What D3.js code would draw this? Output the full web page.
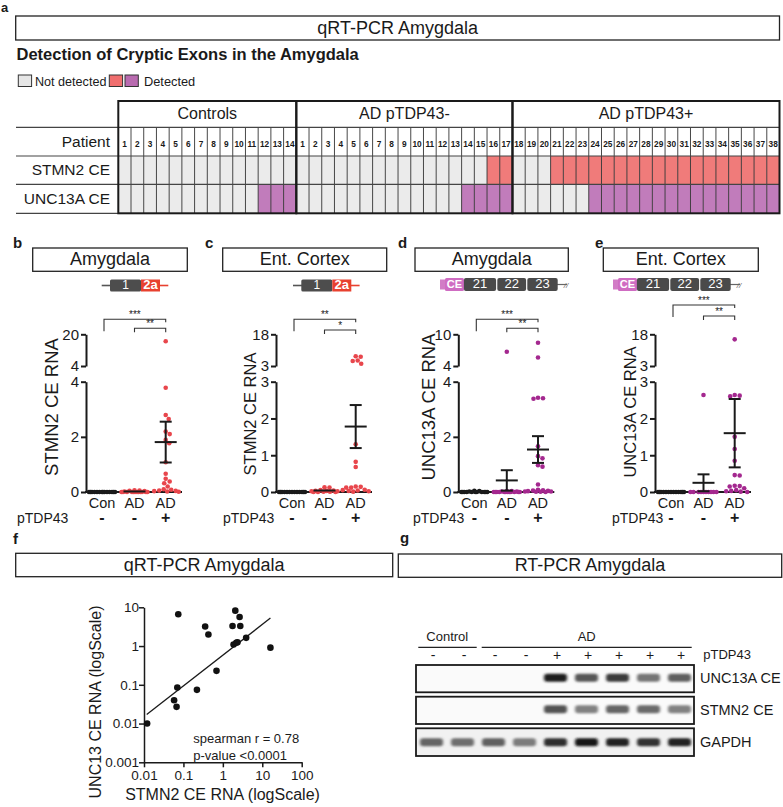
<!DOCTYPE html>
<html><head><meta charset="utf-8">
<script src="https://cdn.jsdelivr.net/npm/d3@7"></script>
<style>body{margin:0;background:#fff} text{font-family:"Liberation Sans",Arial,sans-serif}</style>
</head><body><svg id="fig" width="783" height="807"></svg>
<script>
// ---------------- DATA ----------------
const tableGroups = ["Controls", "AD pTDP43-", "AD pTDP43+"];
const patientIds = [
  [1,2,3,4,5,6,7,8,9,10,11,12,13,14],
  [1,2,3,4,5,6,7,8,9,10,11,12,13,14,15,16,17],
  [18,19,20,21,22,23,24,25,26,27,28,29,30,31,32,33,34,35,36,37,38]
];
const rowLabels = ["Patient", "STMN2 CE", "UNC13A CE"];
const stmn2Status = [
  [0,0,0,0,0,0,0,0,0,0,0,0,0,0],
  [0,0,0,0,0,0,0,0,0,0,0,0,0,0,0,1,1],
  [0,0,0,1,1,1,1,1,1,1,1,1,1,1,1,1,1,1,1,1,1]
];
const unc13aStatus = [
  [0,0,0,0,0,0,0,0,0,0,0,1,1,1],
  [0,0,0,0,0,0,0,0,0,0,0,0,0,1,1,1,1],
  [0,0,0,0,0,0,1,1,1,1,1,1,1,1,1,1,1,1,1,1,1]
];
const categories = ["Con", "AD", "AD"];
const pTDP43Signs = ["-", "-", "+"];

// b: STMN2, Amygdala
const stmn2AmyCon = [0,0,0,0,0,0,0,0,0,0,0,0,0,0];
const stmn2AmyAdNeg = [0,0,0,0,0,0,0,0,0,0,0,0,0.02,0.03,0.04,0.05,0.06];
const stmn2AmyAdPos = [16.5,3.78,2.79,2.65,2.19,2.1,1.89,1.77,1.08,0.66,0.48,0.38,0.32,0.2,0.1,0.08,0.05,0.04,0.03,0.02,0.01];
const stmn2AmyMean = [0, 0.02, 1.81];
const stmn2AmySem = [0, 0.01, 0.74];
// c: STMN2, Ent. Cortex
const stmn2EcCon = [0,0,0,0,0,0,0,0,0,0,0,0,0];
const stmn2EcAdNeg = [0.13,0.12,0.05,0.04,0.03,0.03,0.02,0.02,0.01,0.01,0,0,0];
const stmn2EcAdPos = [7.6,7.4,5.6,5.4,4.1,1.3,0.82,0.68,0.15,0.14,0.12,0.12,0.06,0.05,0.04,0.03,0.02,0.01];
const stmn2EcMean = [0, 0.04, 1.78];
const stmn2EcSem = [0, 0.01, 0.585];
// d: UNC13A, Amygdala
const unc13aAmyCon = [0,0,0,0,0,0,0,0,0,0,0,0.02,0.03,0.04];
const unc13aAmyAdNeg = [6.7,0,0,0,0,0,0,0,0,0,0,0,0,0.02,0.02,0.03,0.03];
const unc13aAmyAdPos = [8.4,5.6,3.42,3.4,3.38,1.66,1.3,1.22,0.97,0.92,0.27,0.08,0.06,0.05,0.04,0.03,0.02,0.02,0.01,0.01,0];
const unc13aAmyMean = [0.01, 0.42, 1.54];
const unc13aAmySem = [0.005, 0.37, 0.485];
// e: UNC13A, Ent. Cortex
const unc13aEcCon = [0,0,0,0,0,0,0,0,0,0,0,0,0];
const unc13aEcAdNeg = [2.64,0,0,0,0,0,0,0,0,0,0];
const unc13aEcAdPos = [15.6,2.64,2.62,2.6,1.5,1.17,0.85,0.46,0.45,0.17,0.16,0.15,0.1,0.05,0.03,0.02,0.01,0];
const unc13aEcMean = [0, 0.25, 1.6];
const unc13aEcSem = [0, 0.23, 0.93];

// f: correlation
const scatterStmn2 = [0.012,0.058,0.067,0.07,0.074,0.22,0.356,0.43,0.69,1.76,1.87,2.07,2.19,2.35,2.66,2.77,3.9,16.1];
const scatterUnc13 = [0.01,0.04,0.027,0.085,6.6,0.074,3.2,1.98,0.229,3.3,1.1,8.2,1.22,1.25,5.6,3.3,1.63,0.91];
const fitX = [0.0117, 16.1];
const fitY = [0.0171, 5.26];
const logTicksX = [0.01, 0.1, 1, 10, 100];
const logTicksY = [0.001, 0.01, 0.1, 1, 10];

// g: gel
const gelSigns = ["-","-","-","-","+","+","+","+","+"];
const gelRows = ["UNC13A CE", "STMN2 CE", "GAPDH"];
const unc13aBand = [0,0,0,0,0.92,0.68,0.8,0.55,0.65];
const stmn2Band = [0,0,0,0,0.7,0.5,0.62,0.6,0.5];
const gapdhBand = [0.62,0.58,0.64,0.52,0.86,0.95,0.9,0.84,0.9];

// ---------------- DRAW ----------------
const svg = d3.select("#fig");
const FONT = "'Liberation Sans', Arial, sans-serif";
const cGray = "#ebebeb", cRed = "#f07b7a", cPurple = "#c17cbb";
const dotRed = "#e8464c", dotPurple = "#a4288f";

function txt(x, y, s, size, opts = {}) {
  return svg.append("text").attr("x", x).attr("y", y).text(s)
    .attr("font-size", size).attr("font-family", FONT)
    .attr("text-anchor", opts.anchor || "start")
    .attr("dominant-baseline", opts.base || "auto")
    .attr("font-weight", opts.bold ? "bold" : "normal")
    .attr("fill", opts.fill || "#1a1a1a");
}
function boxTitle(x0, x1, y0, y1, s, size) {
  svg.append("rect").attr("x", x0).attr("y", y0).attr("width", x1 - x0).attr("height", y1 - y0)
    .attr("fill", "#fff").attr("stroke", "#222").attr("stroke-width", 1.3);
  txt((x0 + x1) / 2, (y0 + y1) / 2 + 1, s, size, {anchor: "middle", base: "middle"});
}

// ----- Panel a -----
txt(1, 12, "a", 13, {bold: true});
boxTitle(15.7, 779.5, 16, 40, "qRT-PCR Amygdala", 18);
txt(16.5, 60, "Detection of Cryptic Exons in the Amygdala", 16.5, {bold: true});
// legend
const legendItems = [
  {x: 18.3, fill: "#e6e6e6"}, {x: 109.3, fill: "#f06e6e"}, {x: 125, fill: "#b96bb0"}
];
legendItems.forEach(l => svg.append("rect").attr("x", l.x).attr("y", 75).attr("width", 13.3).attr("height", 11.5)
  .attr("fill", l.fill).attr("stroke", "#333").attr("stroke-width", 1));
txt(35, 85.5, "Not detected", 12.6);
txt(144, 85.5, "Detected", 12.8);

// table
const allCells = [];
patientIds.forEach((g, gi) => g.forEach((p, pi) => allCells.push({gi, pi, p, s: stmn2Status[gi][pi], u: unc13aStatus[gi][pi]})));
const tx = d3.scaleLinear().domain([0, allCells.length]).range([118.3, 779.5]);
const cw = tx(1) - tx(0);
const rowY = [101, 127.3, 156, 184.3, 213.3];
const statusColor = (v, c) => v ? c : cGray;
const tbl = svg.append("g");
tbl.selectAll(".cs").data(allCells).join("rect")
  .attr("x", (d, i) => tx(i)).attr("y", rowY[2]).attr("width", cw).attr("height", rowY[3] - rowY[2])
  .attr("fill", d => statusColor(d.s, cRed));
tbl.selectAll(".cu").data(allCells).join("rect")
  .attr("x", (d, i) => tx(i)).attr("y", rowY[3]).attr("width", cw).attr("height", rowY[4] - rowY[3])
  .attr("fill", d => statusColor(d.u, cPurple));
// thin verticals
tbl.selectAll(".vl").data(d3.range(1, allCells.length)).join("line")
  .attr("x1", i => tx(i)).attr("x2", i => tx(i)).attr("y1", rowY[1]).attr("y2", rowY[4])
  .attr("stroke", "#333").attr("stroke-width", 0.9);
// horizontals
[1, 2, 3].forEach(r => tbl.append("line").attr("x1", 16).attr("x2", 779.5).attr("y1", rowY[r]).attr("y2", rowY[r])
  .attr("stroke", "#444").attr("stroke-width", 1.2));
tbl.append("line").attr("x1", 16).attr("x2", 118.3).attr("y1", rowY[4]).attr("y2", rowY[4]).attr("stroke", "#444").attr("stroke-width", 1.2);
// group borders
let start = 0;
patientIds.forEach((g, gi) => {
  const x0 = tx(start), x1 = tx(start + g.length);
  tbl.append("rect").attr("x", x0).attr("y", rowY[0]).attr("width", x1 - x0).attr("height", rowY[4] - rowY[0])
    .attr("fill", "none").attr("stroke", "#1a1a1a").attr("stroke-width", 2);
  txt((x0 + x1) / 2, (rowY[0] + rowY[1]) / 2 + 1, tableGroups[gi], 16, {anchor: "middle", base: "middle"});
  start += g.length;
});
// patient numbers
tbl.selectAll(".pn").data(allCells).join("text")
  .attr("x", (d, i) => tx(i) + cw / 2).attr("y", 144.5).text(d => d.p)
  .attr("font-size", 8.3).attr("font-weight", "bold").attr("font-family", FONT)
  .attr("text-anchor", "middle").attr("dominant-baseline", "middle").attr("fill", "#1a1a1a");
rowLabels.forEach((l, i) => txt(110, (rowY[i + 1] + rowY[i + 2]) / 2 + 1, l, 15.5, {anchor: "end", base: "middle"}));

// ----- Panels b-e -----
function swarm(vals, yfn, cx, r, maxHalf) {
  const pts = vals.map(v => ({v, y: yfn(v)})).sort((a, b) => a.y - b.y);
  const placed = [];
  const offs = [0];
  for (let o = 0.5; o <= maxHalf; o += 0.5) { offs.push(o, -o); }
  pts.forEach(p => {
    let chosen = null, bestD = -1, bestO = 0;
    for (const o of offs) {
      let md = Infinity;
      placed.forEach(q => { const d = Math.hypot(q.x - (cx + o), q.y - p.y); if (d < md) md = d; });
      if (md >= 2 * r) { chosen = o; break; }
      if (md > bestD + 0.01) { bestD = md; bestO = o; }
    }
    p.x = cx + (chosen !== null ? chosen : bestO);
    placed.push(p);
  });
  return placed;
}

const panels = [
  {label: "b", lx: 13, title: "Amygdala", box: [32.7, 187.3], axisX: 86, top: 20, brk: 4, low: [0, 2, 4],
   series: [stmn2AmyCon, stmn2AmyAdNeg, stmn2AmyAdPos], mean: stmn2AmyMean, sem: stmn2AmySem, col: dotRed,
   ylab: "STMN2 CE RNA", ylabSize: 18.5, ylabX: 53, ylabY: 407, gene: "stmn2", geneX: 101.7,
   br: [319.3, 328.3], stars: ["***", "**"], ptx: 17},
  {label: "c", lx: 205, title: "Ent. Cortex", box: [222.7, 386.7], axisX: 276, top: 18, brk: 3, low: [0, 1, 2, 3],
   series: [stmn2EcCon, stmn2EcAdNeg, stmn2EcAdPos], mean: stmn2EcMean, sem: stmn2EcSem, col: dotRed,
   ylab: "STMN2 CE RNA", ylabSize: 16.5, ylabX: 252, ylabY: 414, gene: "stmn2", geneX: 293,
   br: [319.3, 330], stars: ["**", "*"], ptx: 223},
  {label: "d", lx: 398, title: "Amygdala", box: [415, 568.3], axisX: 458.3, top: 10, brk: 4, low: [0, 2, 4],
   series: [unc13aAmyCon, unc13aAmyAdNeg, unc13aAmyAdPos], mean: unc13aAmyMean, sem: unc13aAmySem, col: dotPurple,
   ylab: "UNC13A CE RNA", ylabSize: 18.5, ylabX: 430, ylabY: 407, gene: "unc13a", geneX: 440,
   br: [319.3, 328.3], stars: ["***", "**"], ptx: 413},
  {label: "e", lx: 595, title: "Ent. Cortex", box: [603.3, 758.3], axisX: 655, top: 18, brk: 3, low: [0, 1, 2, 3],
   series: [unc13aEcCon, unc13aEcAdNeg, unc13aEcAdPos], mean: unc13aEcMean, sem: unc13aEcSem, col: dotPurple,
   ylab: "UNC13A CE RNA", ylabSize: 16.5, ylabX: 632, ylabY: 412, gene: "unc13a", geneX: 613,
   br: [305, 316], stars: ["***", "**"], ptx: 612}
];

function geneStmn2(x0, yc) {
  const g = svg.append("g");
  g.append("line").attr("x1", x0).attr("x2", x0 + 20).attr("y1", yc).attr("y2", yc).attr("stroke", "#555").attr("stroke-width", 1.6);
  g.append("line").attr("x1", x0 + 45).attr("x2", x0 + 66.6).attr("y1", yc).attr("y2", yc).attr("stroke", "#e8412f").attr("stroke-width", 1.6);
  g.append("rect").attr("x", x0 + 8.3).attr("y", yc - 6).attr("width", 31).attr("height", 12).attr("rx", 1.5).attr("fill", "#4d4d4d");
  g.append("rect").attr("x", x0 + 39.3).attr("y", yc - 6).attr("width", 19).attr("height", 12).attr("fill", "#e8412f");
  g.append("text").attr("x", x0 + 23.8).attr("y", yc + 0.5).text("1").attr("fill", "#fff").attr("font-size", 12)
    .attr("font-family", FONT).attr("text-anchor", "middle").attr("dominant-baseline", "middle");
  g.append("text").attr("x", x0 + 48.8).attr("y", yc + 0.5).text("2a").attr("fill", "#fff").attr("font-size", 13).attr("font-weight", "bold")
    .attr("font-family", FONT).attr("text-anchor", "middle").attr("dominant-baseline", "middle");
}
function geneUnc13a(x0, yc) {
  const g = svg.append("g");
  g.append("line").attr("x1", x0 + 110).attr("x2", x0 + 127).attr("y1", yc).attr("y2", yc).attr("stroke", "#666").attr("stroke-width", 1.2);
  g.append("text").attr("x", x0 + 126).attr("y", yc + 3).text("//").attr("font-size", 8).attr("fill", "#666")
    .attr("font-family", FONT).attr("font-style", "italic").attr("text-anchor", "middle");
  g.append("rect").attr("x", x0).attr("y", yc - 5).attr("width", 8).attr("height", 10).attr("fill", "#d27cc6");
  g.append("rect").attr("x", x0 + 5).attr("y", yc - 6.5).attr("width", 19).attr("height", 13).attr("rx", 1.5).attr("fill", "#cf6cc2");
  g.append("text").attr("x", x0 + 14.5).attr("y", yc + 0.5).text("CE").attr("fill", "#fff").attr("font-size", 11).attr("font-weight", "bold")
    .attr("font-family", FONT).attr("text-anchor", "middle").attr("dominant-baseline", "middle");
  const ex = [["21", 23.3, 56.7], ["22", 56.7, 86.7], ["23", 86.7, 118.3]];
  ex.forEach(e => {
    g.append("rect").attr("x", x0 + e[1] + 0.6).attr("y", yc - 6.5).attr("width", e[2] - e[1] - 1.2).attr("height", 13).attr("rx", 2).attr("fill", "#4a4a4a");
    g.append("text").attr("x", x0 + (e[1] + e[2]) / 2).attr("y", yc + 0.5).text(e[0]).attr("fill", "#fff").attr("font-size", 13)
      .attr("font-family", FONT).attr("text-anchor", "middle").attr("dominant-baseline", "middle");
  });
}

const Y0 = 492, YB = 381.7, YU0 = 366, YUT = 334.3;
panels.forEach(P => {
  txt(P.lx, 248, P.label, 15, {bold: true});
  boxTitle(P.box[0], P.box[1], 248, 271.3, P.title, 18);
  if (P.gene === "stmn2") geneStmn2(P.geneX, 285.5); else geneUnc13a(P.geneX, 284.5);

  const lowS = d3.scaleLinear().domain([0, P.brk]).range([Y0, YB]);
  const upS = d3.scaleLinear().domain([P.brk, P.top]).range([YU0, YUT]);
  const ys = v => v <= P.brk ? lowS(v) : upS(v);
  const catX = [P.axisX + 16, P.axisX + 48.5, P.axisX + 79.7];

  // axes
  const gLow = svg.append("g").attr("transform", `translate(${P.axisX},0)`)
    .call(d3.axisLeft(lowS).tickValues(P.low).tickSize(5).tickSizeOuter(0).tickFormat(d3.format("d")));
  const gUp = svg.append("g").attr("transform", `translate(${P.axisX},0)`)
    .call(d3.axisLeft(upS).tickValues([P.brk, P.top]).tickSize(5).tickSizeOuter(0).tickFormat(d3.format("d")));
  [gLow, gUp].forEach(g => {
    g.select(".domain").attr("stroke", "#1a1a1a").attr("stroke-width", 2);
    g.selectAll(".tick line").attr("stroke", "#1a1a1a").attr("stroke-width", 2);
    g.selectAll(".tick text").attr("font-size", 15).attr("font-family", FONT).attr("fill", "#1a1a1a").attr("x", -7);
  });
  svg.append("line").attr("x1", P.axisX - 1).attr("x2", P.axisX + 96).attr("y1", Y0).attr("y2", Y0)
    .attr("stroke", "#1a1a1a").attr("stroke-width", 2);
  svg.append("text").attr("transform", `translate(${P.ylabX},${P.ylabY}) rotate(-90)`).text(P.ylab)
    .attr("font-size", P.ylabSize).attr("font-family", FONT).attr("text-anchor", "middle").attr("dominant-baseline", "middle").attr("fill", "#1a1a1a");

  // points
  P.series.forEach((vals, ci) => {
    const pts = swarm(vals, ys, catX[ci], 2.3, 13);
    svg.append("g").selectAll("circle").data(pts).join("circle")
      .attr("cx", d => d.x).attr("cy", d => d.y).attr("r", 2.3)
      .attr("fill", ci === 0 ? "#1a1a1a" : P.col);
  });
  // mean / sem
  P.mean.forEach((m, ci) => {
    const g = svg.append("g").attr("stroke", "#1a1a1a").attr("stroke-width", 2);
    const cx = catX[ci];
    g.append("line").attr("x1", cx - 11).attr("x2", cx + 11).attr("y1", ys(m)).attr("y2", ys(m));
    if (P.sem[ci] > 0.02) {
      const t = ys(m + P.sem[ci]), b = ys(Math.max(0, m - P.sem[ci]));
      g.append("line").attr("x1", cx).attr("x2", cx).attr("y1", t).attr("y2", b);
      g.append("line").attr("x1", cx - 6).attr("x2", cx + 6).attr("y1", t).attr("y2", t);
      g.append("line").attr("x1", cx - 6).attr("x2", cx + 6).attr("y1", b).attr("y2", b);
    }
  });
  // category labels
  categories.forEach((c, i) => txt(catX[i], 504, c, 14.5, {anchor: "middle", base: "middle"}));
  txt(P.ptx, 519, "pTDP43", 14, {base: "middle"});
  pTDP43Signs.forEach((s, i) => txt(catX[i], 519, s, 16, {anchor: "middle", base: "middle", bold: true}));
  // brackets
  const bg = svg.append("g").attr("stroke", "#333").attr("stroke-width", 1.1).attr("fill", "none");
  const b1 = [catX[0] + 2, catX[2]], b2 = [catX[1], catX[2]];
  bg.append("path").attr("d", `M${b1[0]},${P.br[0] + 12}V${P.br[0]}H${b1[1]}V${P.br[0] + 3}`);
  bg.append("path").attr("d", `M${b2[0]},${P.br[1] + 4}V${P.br[1]}H${b2[1]}V${P.br[1] + 4}`);
  txt((b1[0] + b1[1]) / 2, P.br[0] - 1.5, P.stars[0], 10, {anchor: "middle"});
  txt((b2[0] + b2[1]) / 2, P.br[1] - 1.5, P.stars[1], 10, {anchor: "middle"});
});

// ----- Panel f -----
txt(13, 544, "f", 15, {bold: true});
boxTitle(15.7, 392.7, 553.3, 576.7, "qRT-PCR Amygdala", 18);
const fx = d3.scaleLog().domain([0.01, 100]).range([144, 301.7]);
const fy = d3.scaleLog().domain([0.001, 10]).range([762.3, 607.3]);
const fmt = d => String(d);
const gfx = svg.append("g").attr("transform", "translate(0,762.3)")
  .call(d3.axisBottom(fx).tickValues(logTicksX).tickFormat(fmt).tickSize(5).tickSizeOuter(0));
const gfy = svg.append("g").attr("transform", "translate(144,0)")
  .call(d3.axisLeft(fy).tickValues(logTicksY).tickFormat(fmt).tickSize(5).tickSizeOuter(0));
[gfx, gfy].forEach(g => {
  g.select(".domain").attr("stroke", "#1a1a1a").attr("stroke-width", 1.5);
  g.selectAll(".tick line").attr("stroke", "#1a1a1a").attr("stroke-width", 1.5);
  g.selectAll(".tick text").attr("font-size", 13.5).attr("font-family", FONT).attr("fill", "#1a1a1a");
});
gfx.selectAll(".tick text").attr("y", 8);
gfy.selectAll(".tick text").attr("x", -5);
svg.append("path").datum(fitX.map((x, i) => [x, fitY[i]]))
  .attr("d", d3.line().x(d => fx(d[0])).y(d => fy(d[1])))
  .attr("stroke", "#1a1a1a").attr("stroke-width", 1.3).attr("fill", "none");
svg.append("g").selectAll("circle").data(scatterStmn2.map((x, i) => [x, scatterUnc13[i]])).join("circle")
  .attr("cx", d => fx(d[0])).attr("cy", d => fy(d[1])).attr("r", 3.3).attr("fill", "#111");
txt(193.3, 740, "spearman r = 0.78", 13, {base: "middle"});
txt(193.3, 756.5, "p-value <0.0001", 13, {base: "middle"});
txt(222.5, 800, "STMN2 CE RNA (logScale)", 16, {anchor: "middle"});
svg.append("text").attr("transform", "translate(97,702) rotate(-90)").text("UNC13 CE RNA (logScale)")
  .attr("font-size", 16).attr("font-family", FONT).attr("text-anchor", "middle").attr("dominant-baseline", "middle").attr("fill", "#1a1a1a");

// ----- Panel g -----
txt(400, 543, "g", 15, {bold: true});
boxTitle(398.3, 781.7, 554, 577.3, "RT-PCR Amygdala", 18);
const defs = svg.append("defs");
defs.append("filter").attr("id", "blur").attr("x", "-30%").attr("y", "-80%").attr("width", "160%").attr("height", "260%")
  .append("feGaussianBlur").attr("stdDeviation", "1.6 1.3");
const laneX = d3.scaleLinear().domain([0, gelSigns.length - 1]).range([431, 679]);
txt(447.3, 641, "Control", 13, {anchor: "middle"});
txt(586.7, 641, "AD", 13, {anchor: "middle"});
svg.append("line").attr("x1", 418.3).attr("x2", 476.7).attr("y1", 647.3).attr("y2", 647.3).attr("stroke", "#222").attr("stroke-width", 1.2);
svg.append("line").attr("x1", 481.7).attr("x2", 691.7).attr("y1", 647.3).attr("y2", 647.3).attr("stroke", "#222").attr("stroke-width", 1.2);
gelSigns.forEach((s, i) => txt(laneX(i) + 2, 656, s, 14, {anchor: "middle", base: "middle"}));
txt(703.3, 656, "pTDP43", 13, {base: "middle"});
const gelBoxes = [[665, 692.3], [696.7, 724], [728.3, 756]];
const bandData = [unc13aBand, stmn2Band, gapdhBand];
const bandShade = d3.interpolateRgb("#f6f6f6", "#0c0c0c");
gelBoxes.forEach((b, r) => {
  svg.append("rect").attr("x", 416).attr("y", b[0]).attr("width", 278).attr("height", b[1] - b[0])
    .attr("fill", r === 2 ? "#f1f1f1" : "#fafafa");
  const yc = (b[0] + b[1]) / 2 + (r === 2 ? 0 : -1);
  svg.append("g").attr("filter", "url(#blur)").selectAll("rect").data(bandData[r]).join("rect")
    .attr("x", (d, i) => laneX(i) - 11).attr("y", yc - 4).attr("width", 23).attr("height", 8).attr("rx", 3)
    .attr("fill", d => bandShade(d)).attr("opacity", d => d > 0 ? 1 : 0);
  svg.append("rect").attr("x", 416).attr("y", b[0]).attr("width", 278).attr("height", b[1] - b[0])
    .attr("fill", "none").attr("stroke", "#1a1a1a").attr("stroke-width", 1.8);
  txt(700, (b[0] + b[1]) / 2 + 1, gelRows[r], 14.5, {base: "middle"});
});
</script></body></html>
